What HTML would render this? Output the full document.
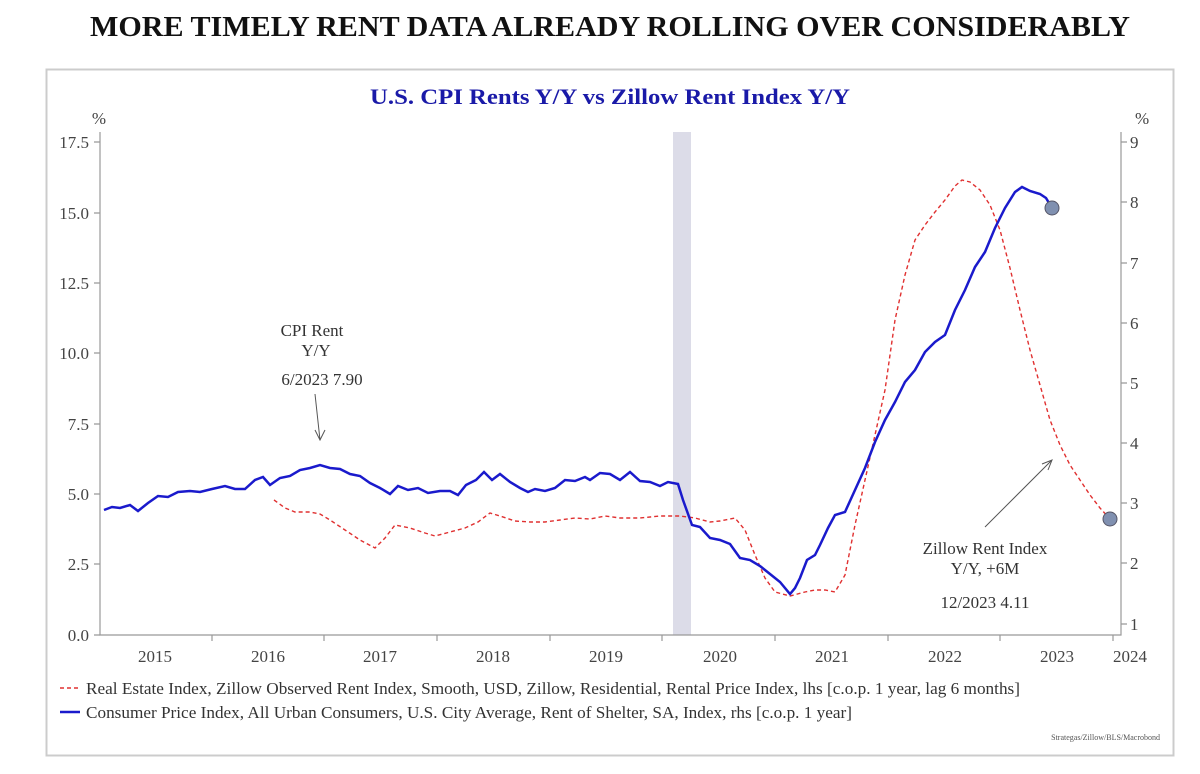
<!DOCTYPE html><html><head><style>body{margin:0;background:#fff}</style></head><body>
<svg width="1200" height="769" xmlns="http://www.w3.org/2000/svg" font-family="Liberation Serif, serif">
<text x="90" y="36" font-size="29" font-weight="bold" fill="#111" textLength="1040" lengthAdjust="spacingAndGlyphs">MORE TIMELY RENT DATA ALREADY ROLLING OVER CONSIDERABLY</text>
<rect x="46.5" y="69.5" width="1127" height="686" fill="#fff" stroke="#ccc" stroke-width="2"/>
<text x="370" y="104" font-size="22" font-weight="bold" fill="#1a1aa8" textLength="480" lengthAdjust="spacingAndGlyphs">U.S. CPI Rents Y/Y vs Zillow Rent Index Y/Y</text>
<rect x="673" y="132" width="18" height="503" fill="#dcdce8"/>
<g stroke="#999" stroke-width="1.2" fill="none">
<path d="M100 132V635H1121V132"/>
<path d="M94 142h6M94 213h6M94 283h6M94 353h6M94 424h6M94 494h6M94 564h6M94 635h6"/>
<path d="M1121 142h6M1121 202h6M1121 263h6M1121 323h6M1121 383h6M1121 443h6M1121 503h6M1121 563h6M1121 624h6"/>
<path d="M212 635v6M324 635v6M437 635v6M550 635v6M662 635v6M775 635v6M888 635v6M1000 635v6M1113 635v6"/>
</g>
<g font-size="17" fill="#444" text-anchor="end">
<text x="89" y="148">17.5</text><text x="89" y="219">15.0</text><text x="89" y="289">12.5</text><text x="89" y="359">10.0</text><text x="89" y="430">7.5</text><text x="89" y="500">5.0</text><text x="89" y="570">2.5</text><text x="89" y="641">0.0</text>
<text x="106" y="124">%</text></g>
<g font-size="17" fill="#444">
<text x="1130" y="148">9</text><text x="1130" y="208">8</text><text x="1130" y="269">7</text><text x="1130" y="329">6</text><text x="1130" y="389">5</text><text x="1130" y="449">4</text><text x="1130" y="509">3</text><text x="1130" y="569">2</text><text x="1130" y="630">1</text><text x="1135" y="124">%</text></g>
<g font-size="17" fill="#444" text-anchor="middle">
<text x="155" y="662">2015</text><text x="268" y="662">2016</text><text x="380" y="662">2017</text><text x="493" y="662">2018</text><text x="606" y="662">2019</text><text x="720" y="662">2020</text><text x="832" y="662">2021</text><text x="945" y="662">2022</text><text x="1057" y="662">2023</text><text x="1130" y="662">2024</text></g>
<polyline fill="none" stroke="#e03030" stroke-width="1.4" stroke-dasharray="4,3" points="274,500 285,508 295,512 310,512 320,514 330,520 345,530 360,540 375,548 385,538 395,525 410,528 425,533 435,536 450,532 465,528 478,522 490,513 500,516 515,521 530,522 545,522 560,520 575,518 590,519 605,516 620,518 640,518 660,516 680,516 695,518 710,522 720,521 735,518 745,530 755,555 765,578 775,592 790,596 805,592 815,590 825,590 835,592 845,575 855,525 865,480 875,435 885,390 895,320 905,275 915,240 925,225 935,212 945,200 955,186 962,180 970,182 980,190 990,205 1000,230 1010,268 1020,310 1030,350 1040,385 1050,420 1060,445 1070,465 1080,480 1090,495 1100,508 1110,519"/>
<polyline fill="none" stroke="#1a1acc" stroke-width="2.5" points="104,510 112,507 120,508 130,505 138,511 148,503 158,496 168,497 178,492 190,491 200,492 212,489 225,486 235,489 245,489 255,480 263,477 270,485 280,478 290,476 300,470 310,468 320,465 330,468 340,469 350,474 360,476 370,483 380,488 390,494 398,486 408,490 418,488 428,493 440,491 450,491 458,495 466,485 476,480 484,472 492,480 500,474 510,482 520,488 528,492 535,489 545,491 555,488 565,480 575,481 585,477 590,480 600,473 610,474 620,480 630,472 640,481 650,482 660,486 668,482 678,484 683,500 692,525 700,527 710,538 720,540 730,544 740,558 750,560 760,566 770,574 780,582 790,594 795,588 800,578 807,560 815,555 820,545 828,528 835,515 845,512 855,490 865,468 875,442 885,420 895,402 905,382 915,370 925,352 935,342 945,335 955,310 965,290 975,267 985,252 995,228 1005,208 1015,192 1022,187 1030,191 1040,194 1046,198 1052,208"/>
<circle cx="1052" cy="208" r="7" fill="#8090b0" stroke="#556" stroke-width="1"/>
<circle cx="1110" cy="519" r="7" fill="#8090b0" stroke="#556" stroke-width="1"/>
<g font-size="17" fill="#333" text-anchor="middle">
<text x="312" y="336">CPI Rent</text><text x="316" y="356">Y/Y</text><text x="322" y="385">6/2023 7.90</text>
<text x="985" y="554">Zillow Rent Index</text><text x="985" y="574">Y/Y, +6M</text><text x="985" y="608">12/2023 4.11</text></g>
<g stroke="#555" stroke-width="1" fill="none">
<path d="M315 394L320 440M315 430L320 440L325 430"/>
<path d="M985 527L1052 460M1042 464L1052 460L1048 470"/></g>
<line x1="60" y1="688" x2="80" y2="688" stroke="#e03030" stroke-width="1.4" stroke-dasharray="4,3"/>
<line x1="60" y1="712" x2="80" y2="712" stroke="#1a1acc" stroke-width="2.5"/>
<g font-size="17" fill="#333">
<text x="86" y="694" textLength="934" lengthAdjust="spacingAndGlyphs">Real Estate Index, Zillow Observed Rent Index, Smooth, USD, Zillow, Residential, Rental Price Index, lhs [c.o.p. 1 year, lag 6 months]</text>
<text x="86" y="718" textLength="766" lengthAdjust="spacingAndGlyphs">Consumer Price Index, All Urban Consumers, U.S. City Average, Rent of Shelter, SA, Index, rhs [c.o.p. 1 year]</text></g>
<text x="1160" y="740" font-size="8" fill="#555" text-anchor="end">Strategas/Zillow/BLS/Macrobond</text>
</svg></body></html>
